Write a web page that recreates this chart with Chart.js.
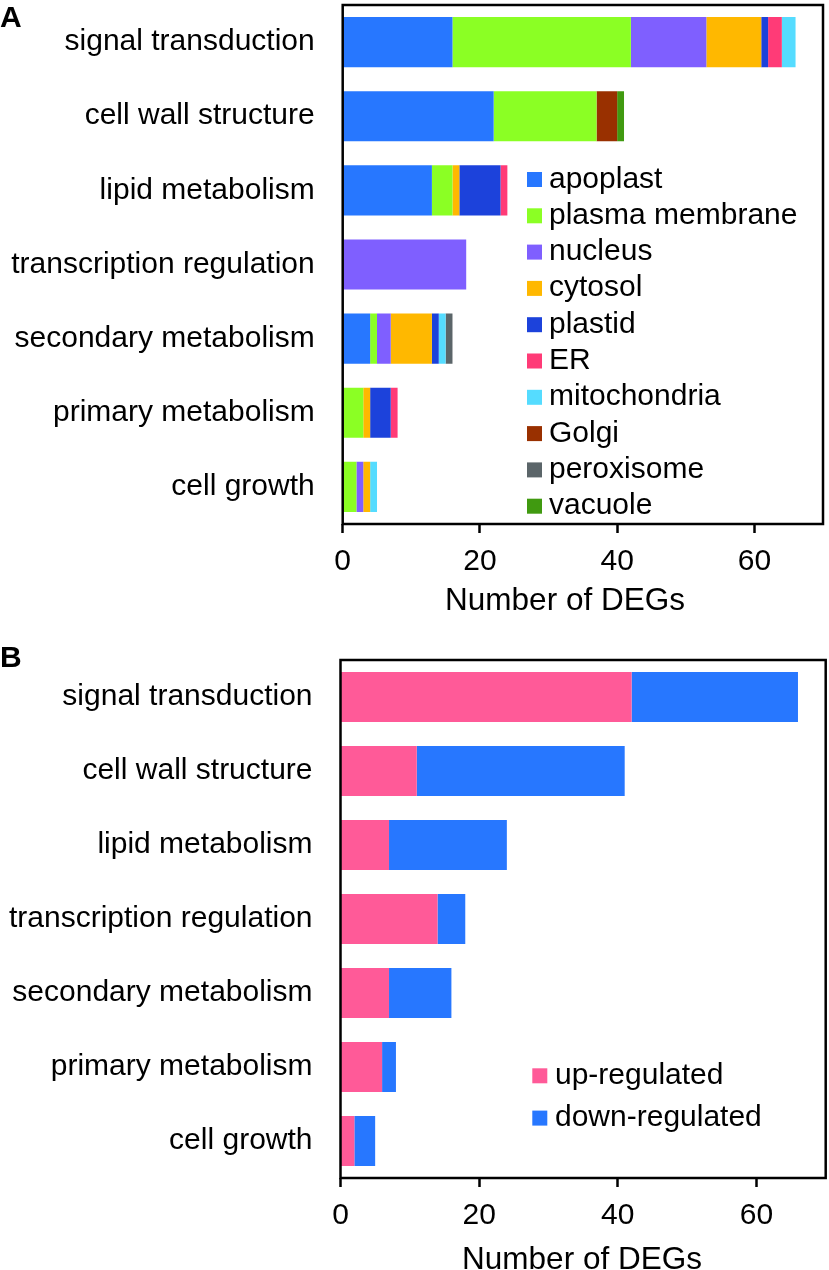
<!DOCTYPE html>
<html>
<head>
<meta charset="utf-8">
<script src="https://cdn.jsdelivr.net/npm/chart.js@4"></script>
<style>
  html, body { margin: 0; padding: 0; background: #fff; }
  body { width: 829px; height: 1270px; position: relative; overflow: hidden; }
  canvas { position: absolute; left: 0; }
  #chartA { top: 0; }
  #chartB { top: 630px; }
</style>
</head>
<body>
<canvas id="chartA" width="829" height="620"></canvas>
<canvas id="chartB" width="829" height="640"></canvas>
<script>
// kategorije (isto za oba panela)
const categories = ['signal transduction', 'cell wall structure', 'lipid metabolism',
    'transcription regulation', 'secondary metabolism', 'primary metabolism', 'cell growth'];

// Panel A - broj DEG-ova po lokalizaciji
const apoplast = [16, 22, 13, 0, 4, 0, 0];
const plasmaMembrane = [26, 15, 3, 0, 1, 3, 2];
const nucleus = [11, 0, 0, 18, 2, 0, 1];
const cytosol = [8, 0, 1, 0, 6, 1, 1];
const plastid = [1, 0, 6, 0, 1, 3, 0];
const er = [2, 0, 1, 0, 0, 1, 0];
const mitochondria = [2, 0, 0, 0, 1, 0, 1];
const golgi = [0, 3, 0, 0, 0, 0, 0];
const peroxisome = [0, 0, 0, 0, 1, 0, 0];
const vacuole = [0, 1, 0, 0, 0, 0, 0];

// Panel B - up / down regulirani
const upRegulated = [42, 11, 7, 14, 7, 6, 2];
const downRegulated = [24, 30, 17, 4, 9, 2, 3];

const xTicks = [0, 20, 40, 60];
const xMax = 70;
const axisTitle = 'Number of DEGs';

const FONT = '"Liberation Sans", Arial, Helvetica, sans-serif';

// okvir oko podrucja grafa + legenda + dodatni tekst
const boxPlugin = {
    id: 'boxAndLegend',
    afterDraw(chart, args, opts) {
        const ctx = chart.ctx;
        const a = chart.chartArea;
        ctx.save();
        ctx.strokeStyle = '#000';
        ctx.lineWidth = 2.5;
        ctx.strokeRect(a.left, a.top, a.right - a.left, a.bottom - a.top);

        // legenda
        const lg = opts.legend;
        ctx.font = '30px ' + FONT;
        ctx.textBaseline = 'alphabetic';
        ctx.textAlign = 'left';
        chart.data.datasets.forEach((ds, i) => {
            const y = lg.y + i * lg.step;
            ctx.fillStyle = ds.backgroundColor;
            ctx.fillRect(lg.x, y, lg.box, lg.box);
            ctx.fillStyle = '#000';
            ctx.fillText(ds.label, lg.textX, y + lg.box + 0.5);
        });

        // naslovi
        (opts.texts || []).forEach(t => {
            ctx.font = t.font;
            ctx.textAlign = t.align;
            ctx.fillStyle = '#000';
            ctx.fillText(t.text, t.x, t.y);
        });
        ctx.restore();
    }
};

function makeOptions(cfg) {
    return {
        responsive: false,
        animation: false,
        indexAxis: 'y',
        layout: { padding: { top: cfg.top, right: cfg.right, left: 0, bottom: 0 } },
        scales: {
            x: {
                stacked: true,
                min: 0,
                max: xMax,
                afterBuildTicks: s => { s.ticks = xTicks.map(v => ({ value: v })); },
                afterFit: s => { s.height = cfg.xHeight; s.paddingLeft = 0; s.paddingRight = 0; },
                grid: { display: true, drawOnChartArea: false, drawTicks: true, tickLength: 9, tickWidth: 2.5, tickColor: '#000' },
                border: { display: false },
                ticks: { color: '#000', font: { size: 30, family: FONT }, padding: cfg.tickPad, maxRotation: 0 }
            },
            y: {
                stacked: true,
                afterFit: s => { s.width = cfg.left; s.paddingTop = 0; s.paddingBottom = 0; },
                grid: { display: false, drawTicks: false },
                border: { display: false },
                ticks: { color: '#000', font: { size: 30, family: FONT }, padding: 28 }
            }
        },
        plugins: {
            legend: { display: false },
            tooltip: { enabled: false },
            boxAndLegend: { legend: cfg.legend, texts: cfg.texts }
        }
    };
}

function ds(label, data, color) {
    return { label: label, data: data, backgroundColor: color, borderWidth: 0, barPercentage: 0.676, categoryPercentage: 1 };
}

// Panel A
new Chart(document.getElementById('chartA'), {
    type: 'bar',
    data: {
        labels: categories,
        datasets: [
            ds('apoplast', apoplast, '#2777ff'),
            ds('plasma membrane', plasmaMembrane, '#8bff24'),
            ds('nucleus', nucleus, '#7f5fff'),
            ds('cytosol', cytosol, '#ffb800'),
            ds('plastid', plastid, '#1c42db'),
            ds('ER', er, '#ff3b77'),
            ds('mitochondria', mitochondria, '#55dcff'),
            ds('Golgi', golgi, '#993000'),
            ds('peroxisome', peroxisome, '#5b6569'),
            ds('vacuole', vacuole, '#409a10')
        ]
    },
    options: makeOptions({
        top: 5, right: 6, left: 342.7, xHeight: 96, tickPad: 11,
        legend: { x: 527, y: 172, step: 36.3, box: 15, textX: 549 },
        texts: [
            { text: axisTitle, x: 565, y: 610, font: '31.5px ' + FONT, align: 'center' },
            { text: 'A', x: 0, y: 27, font: 'bold 30px ' + FONT, align: 'left' }
        ]
    }),
    plugins: [boxPlugin]
});

// Panel B
new Chart(document.getElementById('chartB'), {
    type: 'bar',
    data: {
        labels: categories,
        datasets: [
            ds('up-regulated', upRegulated, '#ff5a98'),
            ds('down-regulated', downRegulated, '#2777ff')
        ]
    },
    options: makeOptions({
        top: 30, right: 3.3, left: 340.5, xHeight: 92, tickPad: 11,
        legend: { x: 532.3, y: 438.3, step: 42.3, box: 15, textX: 555 },
        texts: [
            { text: axisTitle, x: 582, y: 639, font: '31.5px ' + FONT, align: 'center' },
            { text: 'B', x: 0, y: 37, font: 'bold 30px ' + FONT, align: 'left' }
        ]
    }),
    plugins: [boxPlugin]
});
</script>
</body>
</html>
